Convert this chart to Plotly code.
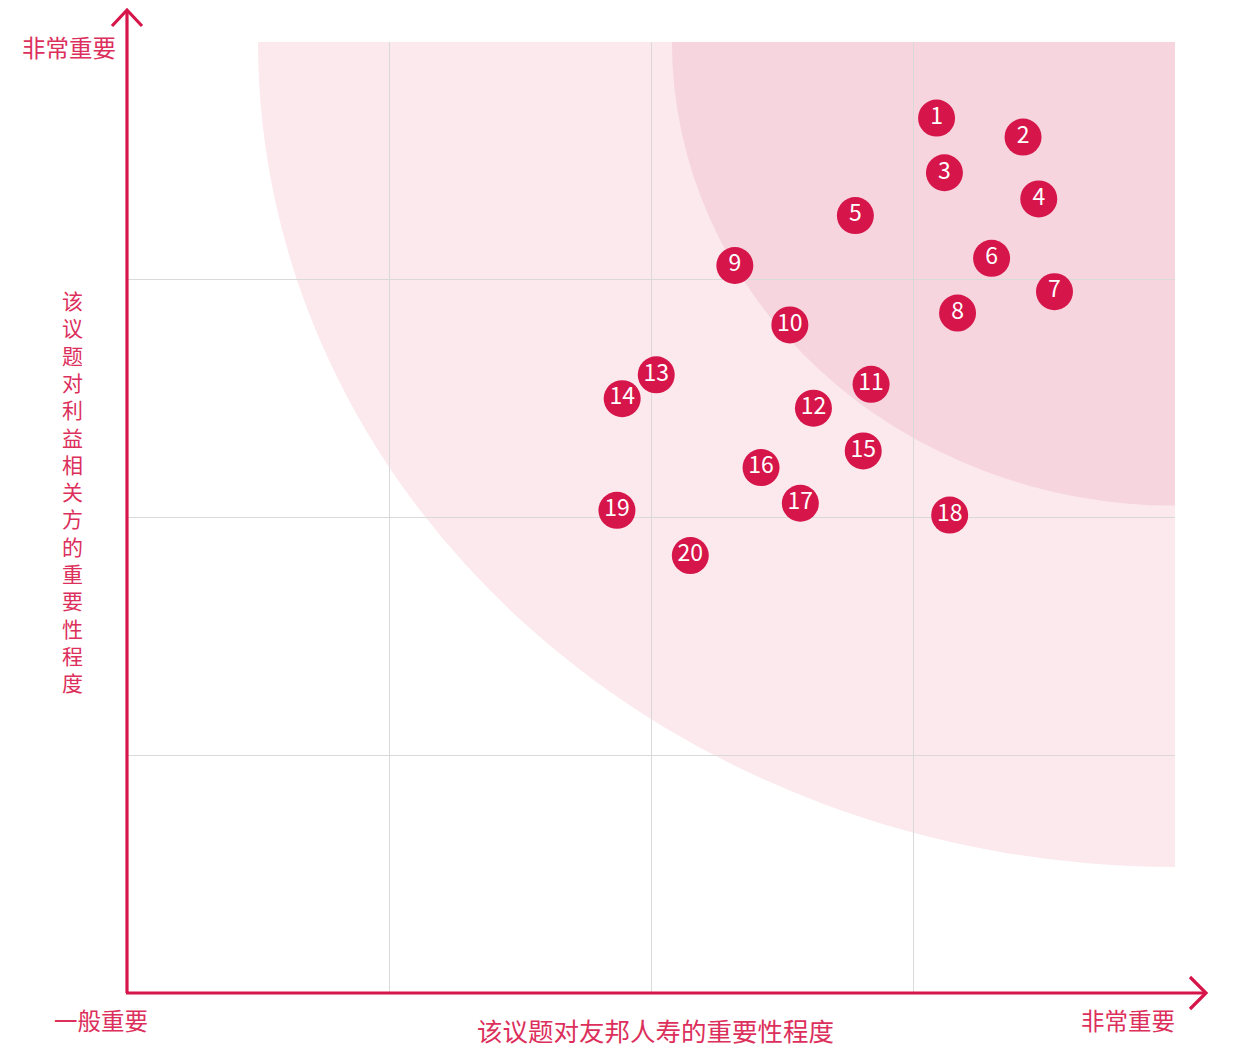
import plotly.graph_objects as go

# ---- data ----
labels = [str(i) for i in range(1, 21)]
x_vals = [3.09, 3.42, 3.12, 3.48, 2.78, 3.30, 3.54, 3.17, 2.32, 2.53,
          2.84, 2.62, 2.02, 1.89, 2.81, 2.42, 2.57, 3.14, 1.87, 2.15]
y_vals = [3.68, 3.60, 3.45, 3.34, 3.27, 3.09, 2.95, 2.86, 3.06, 2.81,
          2.56, 2.46, 2.60, 2.50, 2.28, 2.21, 2.06, 2.01, 2.03, 1.84]

x_title = "该议题对友邦人寿的重要性程度"
y_title = "该议题对利益相关方的重要性程度"
high_label = "非常重要"
low_label = "一般重要"

# zone radii (data units, centred on top-right corner)
outer_zone = (3.50, 3.47)
inner_zone = (1.92, 1.95)

RED = "#d6154a"
TXT = "#dc2f5c"
FONT = "Noto Sans CJK SC"

W, H = 1233, 1047
ML, MT = 127, 42
MR = W - 1175
MB = H - 993
PW, PH = W - ML - MR, H - MT - MB


def px(X):
    return (X - ML) / PW


def py(Y):
    return (MT + PH - Y) / PH


fig = go.Figure()

fig.add_trace(go.Scatter(
    x=x_vals, y=y_vals, mode="markers+text", text=labels,
    textposition="middle center",
    textfont=dict(family=FONT, size=23, color="white"),
    marker=dict(size=37, color=RED, line=dict(width=0)),
    hoverinfo="skip", showlegend=False, cliponaxis=False,
))

shapes = []
for (rx, ry), col in [(outer_zone, "#fbe9ed"), (inner_zone, "#f6d5de")]:
    shapes.append(dict(type="circle", xref="x", yref="y",
                       x0=4 - rx, x1=4 + rx, y0=4 - ry, y1=4 + ry,
                       fillcolor=col, line=dict(width=0), layer="below"))


def path(pts):
    return "M " + " L ".join(f"{px(a)},{py(b)}" for a, b in pts)


arrow_line = dict(color=RED, width=3.2)
shapes.append(dict(type="path", xref="paper", yref="paper",
                   path=path([(127, 993), (127, 10)]), line=arrow_line, layer="above"))
shapes.append(dict(type="path", xref="paper", yref="paper",
                   path=path([(112, 26), (127, 10), (142, 26)]), line=arrow_line, layer="above"))
shapes.append(dict(type="path", xref="paper", yref="paper",
                   path=path([(126, 993), (1206, 993)]), line=arrow_line, layer="above"))
shapes.append(dict(type="path", xref="paper", yref="paper",
                   path=path([(1190, 977), (1206, 993), (1190, 1009)]), line=arrow_line, layer="above"))

annotations = [
    dict(text=high_label, xref="paper", yref="paper", x=px(69), y=py(47),
         xanchor="center", yanchor="middle", showarrow=False,
         font=dict(family=FONT, size=23.5, color=TXT)),
    dict(text=low_label, xref="paper", yref="paper", x=px(101), y=py(1020),
         xanchor="center", yanchor="middle", showarrow=False,
         font=dict(family=FONT, size=23.5, color=TXT)),
    dict(text=high_label, xref="paper", yref="paper", x=px(1128), y=py(1020),
         xanchor="center", yanchor="middle", showarrow=False,
         font=dict(family=FONT, size=23.5, color=TXT)),
    dict(text=x_title, xref="paper", yref="paper", x=px(655), y=py(1029),
         xanchor="center", yanchor="middle", showarrow=False,
         font=dict(family=FONT, size=25.5, color=TXT)),
    dict(text="<br>".join(y_title), xref="paper", yref="paper", x=px(72), y=py(491),
         xanchor="center", yanchor="middle", showarrow=False,
         font=dict(family=FONT, size=21, color=TXT)),
]

axis_common = dict(range=[0, 4], tick0=0, dtick=1, showgrid=True, gridcolor="#d9d9d9",
                   gridwidth=1, showticklabels=False, zeroline=False, showline=False,
                   ticks="", fixedrange=True)

fig.update_layout(
    width=W, height=H,
    margin=dict(l=ML, r=MR, t=MT, b=MB, pad=0),
    paper_bgcolor="white", plot_bgcolor="rgba(0,0,0,0)",
    xaxis=axis_common, yaxis=axis_common,
    shapes=shapes, annotations=annotations,
    showlegend=False,
)

fig.write_html("out.html", config={"displayModeBar": False},
               post_script="document.body.style.margin='0';document.body.style.overflow='hidden';")
